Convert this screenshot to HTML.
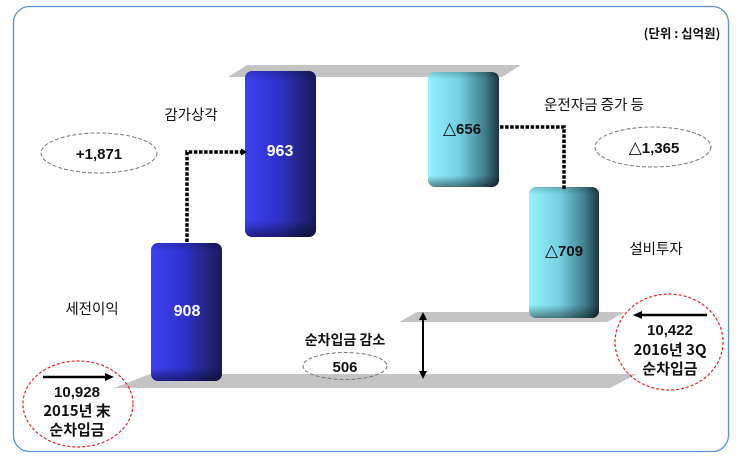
<!DOCTYPE html>
<html><head><meta charset="utf-8">
<style>
html,body{margin:0;padding:0;background:#fff;}
svg{display:block;}
text{font-family:"Liberation Sans","Noto Sans CJK KR",sans-serif;}
.k{font-family:"Noto Sans CJK KR","Liberation Sans",sans-serif;}
.tri{font-family:"DejaVu Sans","Liberation Sans",sans-serif;font-weight:bold;}
</style></head>
<body>
<svg width="737" height="460" viewBox="0 0 737 460" xmlns="http://www.w3.org/2000/svg">
<defs>
<linearGradient id="gb" x1="0" y1="0" x2="1" y2="0">
<stop offset="0" stop-color="#3d41f2"/>
<stop offset="0.45" stop-color="#2f32cc"/>
<stop offset="0.8" stop-color="#22247f"/>
<stop offset="1" stop-color="#181a5e"/>
</linearGradient>
<linearGradient id="gc" x1="0" y1="0" x2="1" y2="0">
<stop offset="0" stop-color="#96f3ff"/>
<stop offset="0.45" stop-color="#74cfdf"/>
<stop offset="0.8" stop-color="#3f7d8c"/>
<stop offset="1" stop-color="#1c3640"/>
</linearGradient>
<linearGradient id="gv" x1="0" y1="0" x2="0" y2="1">
<stop offset="0" stop-color="#000" stop-opacity="0.18"/>
<stop offset="0.06" stop-color="#000" stop-opacity="0"/>
<stop offset="0.9" stop-color="#000" stop-opacity="0"/>
<stop offset="1" stop-color="#000" stop-opacity="0.45"/>
</linearGradient>
</defs>

<!-- frame -->
<rect x="13.5" y="6.5" width="715" height="445" rx="16" fill="none" stroke="#5b91d9" stroke-width="1.3"/>

<!-- slabs -->
<polygon points="247,65 521,65 502,77 228,77" fill="#c4c4c4"/>
<polygon points="417,312 625,312 607,322 399,322" fill="#c4c4c4"/>
<polygon points="150,374 637,374 610,388 114,388" fill="#c4c4c4"/>

<!-- bars -->
<rect x="151" y="243" width="71" height="138" rx="7" fill="url(#gb)"/>
<rect x="151" y="243" width="71" height="138" rx="7" fill="url(#gv)"/>
<rect x="245" y="71" width="71" height="166" rx="7" fill="url(#gb)"/>
<rect x="245" y="71" width="71" height="166" rx="7" fill="url(#gv)"/>
<rect x="428" y="72" width="71" height="115" rx="7" fill="url(#gc)"/>
<rect x="428" y="72" width="71" height="115" rx="7" fill="url(#gv)"/>
<rect x="529" y="187" width="70" height="131" rx="7" fill="url(#gc)"/>
<rect x="529" y="187" width="70" height="131" rx="7" fill="url(#gv)"/>

<!-- dotted connectors -->
<polyline points="187,242 187,152 242,152" fill="none" stroke="#000" stroke-width="3.5" stroke-dasharray="3.5 1.6"/>
<polygon points="241,148.5 247,152 241,155.5" fill="#000"/>
<polyline points="500,127 564,127 564,190" fill="none" stroke="#000" stroke-width="3.5" stroke-dasharray="3.5 1.6"/>

<!-- double arrow -->
<line x1="423" y1="318" x2="423" y2="373" stroke="#000" stroke-width="2"/>
<polygon points="419,320 423,312 427,320" fill="#000"/>
<polygon points="419,371 423,379 427,371" fill="#000"/>

<!-- dashed ellipses -->
<ellipse cx="99" cy="153" rx="58" ry="20" fill="none" stroke="#777" stroke-width="1" stroke-dasharray="4 2"/>
<ellipse cx="653" cy="147" rx="58" ry="20" fill="none" stroke="#777" stroke-width="1" stroke-dasharray="4 2"/>
<ellipse cx="345" cy="366" rx="42" ry="13.5" fill="none" stroke="#777" stroke-width="1" stroke-dasharray="4 2"/>

<!-- red circles -->
<ellipse cx="78" cy="404" rx="55" ry="43" fill="none" stroke="#e52222" stroke-width="1.2" stroke-dasharray="3 2"/>
<ellipse cx="669" cy="342" rx="54" ry="48" fill="none" stroke="#e52222" stroke-width="1.2" stroke-dasharray="3 2"/>

<!-- black arrows -->
<line x1="43" y1="377" x2="106" y2="377" stroke="#000" stroke-width="2.5"/>
<polygon points="105,373 114,377 105,381" fill="#000"/>
<line x1="707" y1="315" x2="641" y2="315" stroke="#000" stroke-width="2.5"/>
<polygon points="642,311 633,315 642,319" fill="#000"/>

<!-- texts -->
<text x="682" y="38" font-size="12.5" font-weight="bold" text-anchor="middle" class="k" fill="#111">(단위 : 십억원)</text>
<text x="191" y="120" font-size="14.5" text-anchor="middle" class="k" fill="#111">감가상각</text>
<text x="99" y="159" font-size="15" font-weight="bold" text-anchor="middle" fill="#111">+1,871</text>
<text x="280" y="156" font-size="16" font-weight="bold" text-anchor="middle" fill="#fff">963</text>
<text x="187" y="316" font-size="16" font-weight="bold" text-anchor="middle" fill="#fff">908</text>
<text x="92" y="314" font-size="14.5" text-anchor="middle" class="k" fill="#111">세전이익</text>
<text x="462" y="134" font-size="15" font-weight="bold" text-anchor="middle" fill="#111"><tspan class="tri" font-size="17">△</tspan>656</text>
<text x="594" y="110" font-size="14.5" text-anchor="middle" class="k" fill="#111">운전자금 증가 등</text>
<text x="654" y="153" font-size="15" font-weight="bold" text-anchor="middle" fill="#111"><tspan class="tri" font-size="17">△</tspan>1,365</text>
<text x="564" y="256" font-size="15" font-weight="bold" text-anchor="middle" fill="#111"><tspan class="tri" font-size="17">△</tspan>709</text>
<text x="656" y="254" font-size="14.5" text-anchor="middle" class="k" fill="#111">설비투자</text>
<text x="345" y="345" font-size="14" font-weight="bold" text-anchor="middle" class="k" fill="#111">순차입금 감소</text>
<text x="345" y="372" font-size="15" font-weight="bold" text-anchor="middle" fill="#111">506</text>

<text x="77" y="397" font-size="15" font-weight="bold" text-anchor="middle" fill="#111">10,928</text>
<text x="77" y="416" font-size="15" font-weight="bold" text-anchor="middle" class="k" fill="#111">2015년 末</text>
<text x="77" y="435" font-size="15" font-weight="bold" text-anchor="middle" class="k" fill="#111">순차입금</text>

<text x="670" y="335" font-size="15" font-weight="bold" text-anchor="middle" fill="#111">10,422</text>
<text x="670" y="355" font-size="15" font-weight="bold" text-anchor="middle" class="k" fill="#111">2016년 3Q</text>
<text x="670" y="374" font-size="15" font-weight="bold" text-anchor="middle" class="k" fill="#111">순차입금</text>
</svg>
</body></html>
